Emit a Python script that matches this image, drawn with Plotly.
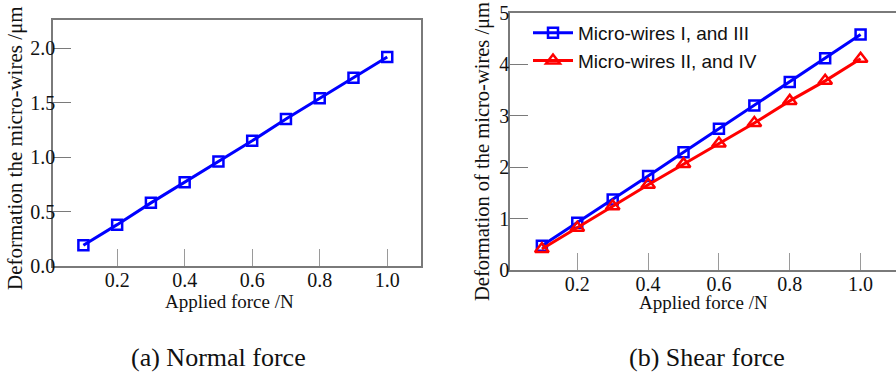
import plotly.graph_objects as go

force = [0.1, 0.2, 0.3, 0.4, 0.5, 0.6, 0.7, 0.8, 0.9, 1.0]
normal_def = [0.19, 0.38, 0.58, 0.77, 0.96, 1.15, 1.35, 1.54, 1.73, 1.92]
shear_I_III = [0.47, 0.92, 1.37, 1.83, 2.29, 2.75, 3.20, 3.66, 4.12, 4.58]
shear_II_IV = [0.41, 0.82, 1.24, 1.66, 2.06, 2.46, 2.86, 3.29, 3.68, 4.11]

x_ticks = [0.2, 0.4, 0.6, 0.8, 1.0]
y_ticks_a = [0.0, 0.5, 1.0, 1.5, 2.0]
y_ticks_b = [0, 1, 2, 3, 4, 5]

W, H = 896, 375


def fx(px):
    return px / W


def fy(py):
    return (H - py) / H


SERIF = "Liberation Serif"
SANS = "Liberation Sans"
BLUE = "#0000FF"
RED = "#FF0000"
FRAME = "#7a7a7a"

fig = go.Figure()

fig.add_trace(go.Scatter(
    x=force, y=normal_def, mode="lines+markers", xaxis="x", yaxis="y",
    line=dict(color=BLUE, width=3),
    marker=dict(symbol="square-open", size=10, color=BLUE, line=dict(width=2.5, color=BLUE)),
    showlegend=False,
))
fig.add_trace(go.Scatter(
    x=force, y=shear_I_III, mode="lines+markers", xaxis="x2", yaxis="y2",
    name="Micro-wires I, and III",
    line=dict(color=BLUE, width=3),
    marker=dict(symbol="square-open", size=10, color=BLUE, line=dict(width=2.5, color=BLUE)),
))
fig.add_trace(go.Scatter(
    x=force, y=shear_II_IV, mode="lines+markers", xaxis="x2", yaxis="y2",
    name="Micro-wires II, and IV",
    line=dict(color=RED, width=3),
    marker=dict(symbol="triangle-up-open", size=12, color=RED, line=dict(width=2.5, color=RED)),
))


def xax(domain, anchor):
    return dict(
        domain=domain, anchor=anchor, range=[0.01, 1.1], automargin=False,
        tickvals=x_ticks, ticktext=[f"{v:.1f}" for v in x_ticks],
        ticks="inside", ticklen=17, tickwidth=1.2, tickcolor="#9a9a9a",
        showline=True, linecolor=FRAME, linewidth=1.5, mirror=True,
        showgrid=False, zeroline=False,
        tickfont=dict(family=SERIF, size=20, color="#111"),
        ticklabelstandoff=-5, ticklabeloverflow="allow",
    )


def yax(domain, anchor, rng, vals, fmt, mirror, standoff):
    return dict(
        domain=domain, anchor=anchor, range=rng, automargin=False,
        tickvals=vals, ticktext=[fmt.format(v) for v in vals],
        ticks="inside", ticklen=18, tickwidth=1.2, tickcolor=FRAME,
        showline=True, linecolor=FRAME, linewidth=1.5, mirror=mirror,
        showgrid=False, zeroline=False,
        tickfont=dict(family=SERIF, size=20, color="#111"),
        ticklabelstandoff=standoff, ticklabeloverflow="allow",
    )


fig.update_layout(
    template="none",
    width=W, height=H,
    margin=dict(l=0, r=0, t=0, b=0, pad=0),
    paper_bgcolor="white", plot_bgcolor="white",
    xaxis=xax([fx(53), fx(421)], "y"),
    yaxis=yax([fy(266), fy(20)], "x", [0, 2.26], y_ticks_a, "{:.1f}", True, -8),
    xaxis2=xax([fx(510), 1.0], "y2"),
    yaxis2=yax([fy(270), fy(13)], "x2", [0, 5], y_ticks_b, "{:d}", False, -5),
    legend=dict(
        x=fx(528), y=fy(14), xanchor="left", yanchor="top",
        font=dict(family=SANS, size=19, color="#111"),
        bgcolor="rgba(0,0,0,0)", tracegroupgap=0, itemwidth=40,
    ),
    showlegend=True,
)

annots = [
    dict(text="Applied force /N", x=230, y=301, size=19, angle=0),
    dict(text="Applied force /N", x=703, y=302, size=19, angle=0),
    dict(text="Deformation the micro-wires /μm", x=15, y=148, size=21, angle=-90),
    dict(text="Deformation of the micro-wires /μm", x=482, y=152, size=20.5, angle=-90),
    dict(text="(a) Normal force", x=218, y=357, size=26, angle=0),
    dict(text="(b) Shear force", x=707, y=357, size=26, angle=0),
]
for a in annots:
    fig.add_annotation(
        text=a["text"], x=fx(a["x"]), y=fy(a["y"]), xref="paper", yref="paper",
        xanchor="center", yanchor="middle", showarrow=False, textangle=a["angle"],
        font=dict(family=SERIF, size=a["size"], color="#111"),
    )

fig.write_html(
    "out.html",
    config={"displayModeBar": False},
    post_script="document.body.style.margin='0px';document.body.style.overflow='hidden';",
)
